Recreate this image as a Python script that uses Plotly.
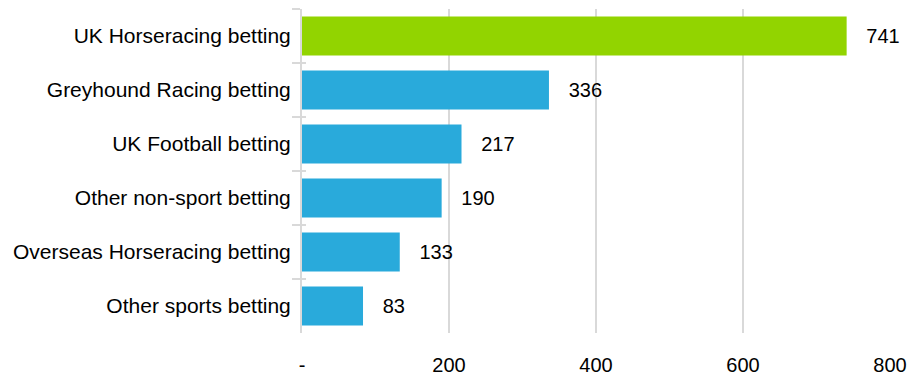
import plotly.graph_objects as go

# Betting categories (top to bottom) and their values
categories = [
    "UK Horseracing betting",
    "Greyhound Racing betting",
    "UK Football betting",
    "Other non-sport betting",
    "Overseas Horseracing betting",
    "Other sports betting",
]
values = [741, 336, 217, 190, 133, 83]
bar_colors = ["#92D400", "#29AADB", "#29AADB", "#29AADB", "#29AADB", "#29AADB"]

x_tickvals = [0, 200, 400, 600, 800]
x_ticktext = ["-", "200", "400", "600", "800"]

FONT = "Arial, 'Liberation Sans', sans-serif"
GRID = "#D9D9D9"

fig = go.Figure()

fig.add_trace(go.Bar(
    x=values,
    y=categories,
    orientation="h",
    marker=dict(color=bar_colors, line=dict(width=0)),
    width=0.72,
    text=values,
    texttemplate="   %{x}",
    textposition="outside",
    constraintext="none",
    cliponaxis=False,
    textfont=dict(family=FONT, size=20, color="#000000"),
    hoverinfo="skip",
    showlegend=False,
))

# Invisible companion trace so the inner tick marks on the category axis can be drawn
fig.add_trace(go.Bar(
    x=[0] * len(categories),
    y=categories,
    orientation="h",
    yaxis="y2",
    marker=dict(opacity=0),
    hoverinfo="skip",
    showlegend=False,
))

fig.update_layout(
    width=909,
    height=380,
    margin=dict(l=302, r=19, t=9, b=47, autoexpand=False),
    paper_bgcolor="white",
    plot_bgcolor="white",
    font=dict(family=FONT, size=20, color="#000000"),
    bargap=0.28,
    xaxis=dict(
        range=[0, 800],
        tickvals=x_tickvals,
        ticktext=x_ticktext,
        showgrid=True,
        gridcolor=GRID,
        gridwidth=2,
        zeroline=False,
        showline=False,
        ticks="",
        automargin=False,
        ticklabelstandoff=18,
        tickfont=dict(family=FONT, size=20, color="#000000"),
        fixedrange=True,
    ),
    yaxis=dict(
        type="category",
        categoryorder="array",
        categoryarray=categories,
        autorange="reversed",
        showline=True,
        linecolor=GRID,
        linewidth=2,
        ticks="outside",
        tickson="boundaries",
        ticklen=8,
        tickwidth=2,
        tickcolor=GRID,
        showgrid=False,
        automargin=False,
        ticklabelstandoff=5,
        tickfont=dict(family=FONT, size=21, color="#000000"),
        fixedrange=True,
    ),
    yaxis2=dict(
        type="category",
        categoryorder="array",
        categoryarray=categories,
        autorange="reversed",
        overlaying="y",
        side="left",
        anchor="x",
        showline=False,
        ticks="inside",
        tickson="boundaries",
        ticklen=4,
        tickwidth=2,
        tickcolor=GRID,
        showgrid=False,
        showticklabels=False,
        automargin=False,
        fixedrange=True,
    ),
)

fig.write_html("out.html")
